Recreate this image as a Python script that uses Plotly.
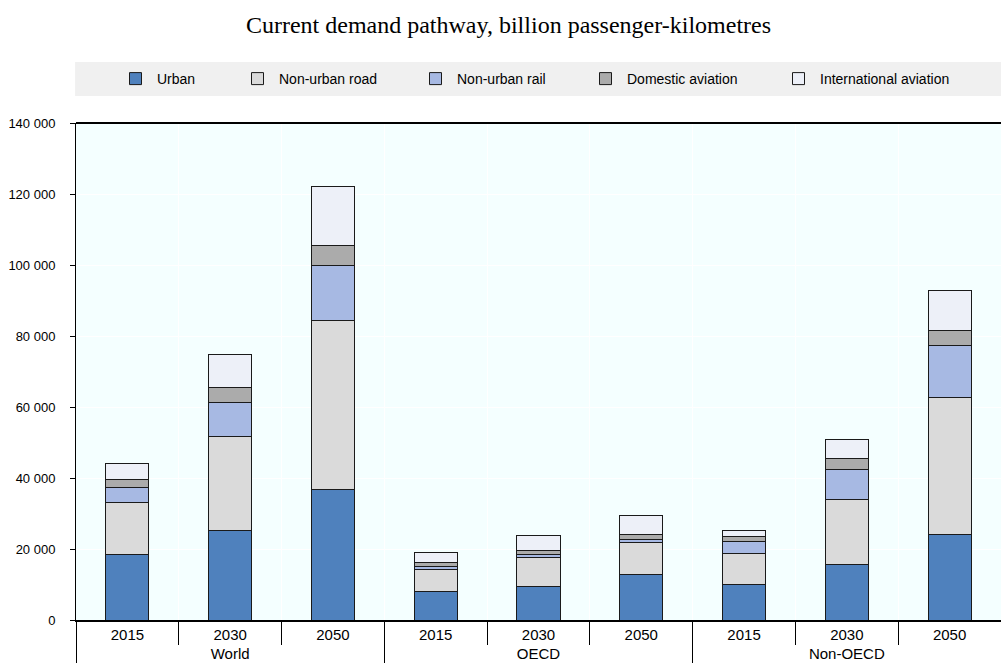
import plotly.graph_objects as go

regions = ["World", "World", "World", "OECD", "OECD", "OECD", "Non-OECD", "Non-OECD", "Non-OECD"]
years = ["2015", "2030", "2050"] * 3

urban = [18400, 25200, 36900, 8100, 9500, 12900, 10100, 15700, 24200]
non_urban_road = [14600, 26400, 47400, 6200, 8000, 8800, 8500, 18300, 38500]
non_urban_rail = [4200, 9600, 15600, 700, 900, 1000, 3400, 8500, 14500]
domestic_aviation = [2400, 4200, 5500, 1300, 1300, 1300, 1400, 3100, 4300]
international_aviation = [4600, 9400, 16700, 2700, 4200, 5500, 1800, 5200, 11200]

series = [
    ("Urban", urban, "#4F81BD"),
    ("Non-urban road", non_urban_road, "#DADADA"),
    ("Non-urban rail", non_urban_rail, "#A7B9E3"),
    ("Domestic aviation", domestic_aviation, "#ABABAB"),
    ("International aviation", international_aviation, "#EDF0F8"),
]

FONT = "Liberation Sans, Arial, sans-serif"

# left edges (px) of each legend entry, converted to paper coordinates
L, W = 76, 925
legend_left_px = [114, 236, 414, 584, 777]

fig = go.Figure()
legend_layout = {}
for i, (name, vals, color) in enumerate(series):
    key = "legend" if i == 0 else f"legend{i+1}"
    fig.add_trace(go.Bar(
        x=[regions, years], y=vals, name=name, legend=key,
        marker=dict(color=color, line=dict(color="#1A1A1A", width=1)),
    ))
    legend_layout[key] = dict(
        orientation="h", x=(legend_left_px[i] - L) / W, xanchor="left",
        y=1 + (123 - 79) / 497, yanchor="middle",
        bgcolor="rgba(0,0,0,0)", borderwidth=0, itemwidth=33,
        font=dict(family=FONT, size=14, color="#000000"),
    )

fig.update_layout(
    barmode="stack",
    bargap=0.58,
    width=1001, height=667,
    margin=dict(l=76, r=0, t=123, b=47, autoexpand=False),
    paper_bgcolor="#FFFFFF",
    plot_bgcolor="#F4FFFF",
    separators=". ",
    title=dict(
        text="Current demand pathway, billion passenger-kilometres",
        font=dict(family="Liberation Serif, Times New Roman, serif", size=24, color="#000000"),
        x=0.508, xanchor="center", y=1 - 25 / 667, yanchor="middle",
    ),
    showlegend=True,
    shapes=[
        dict(type="rect", xref="paper", yref="paper", x0=-0.001, x1=1.0,
             y0=1 + (123 - 96) / 497, y1=1 + (123 - 62) / 497,
             fillcolor="#F0F0F0", line=dict(width=0), layer="below"),
        dict(type="line", xref="paper", yref="paper", x0=0, x1=1, y0=1, y1=1,
             line=dict(color="#000000", width=2)),
    ],
    **legend_layout,
)

fig.update_xaxes(
    type="multicategory", automargin=False,
    showline=True, linecolor="#000000", linewidth=2,
    ticks="outside", tickson="boundaries", ticklen=23, tickcolor="#000000", tickwidth=1,
    showdividers=True, dividercolor="#000000", dividerwidth=1,
    showgrid=True, gridcolor="#FFFFFF", gridwidth=1,
    tickfont=dict(family=FONT, size=15, color="#000000"),
)
fig.update_yaxes(
    range=[0, 140000], dtick=20000, tickformat=",d", automargin=False,
    showline=True, linecolor="#000000", linewidth=1,
    ticks="outside", ticklen=5, tickcolor="#000000",
    ticklabelstandoff=12,
    showgrid=True, gridcolor="#FFFFFF", gridwidth=1,
    zeroline=False,
    tickfont=dict(family=FONT, size=13, color="#000000"),
)

fig.write_html(
    "out.html",
    config={"displayModeBar": False},
    post_script="document.body.style.margin='0';document.body.style.overflow='hidden';",
)
